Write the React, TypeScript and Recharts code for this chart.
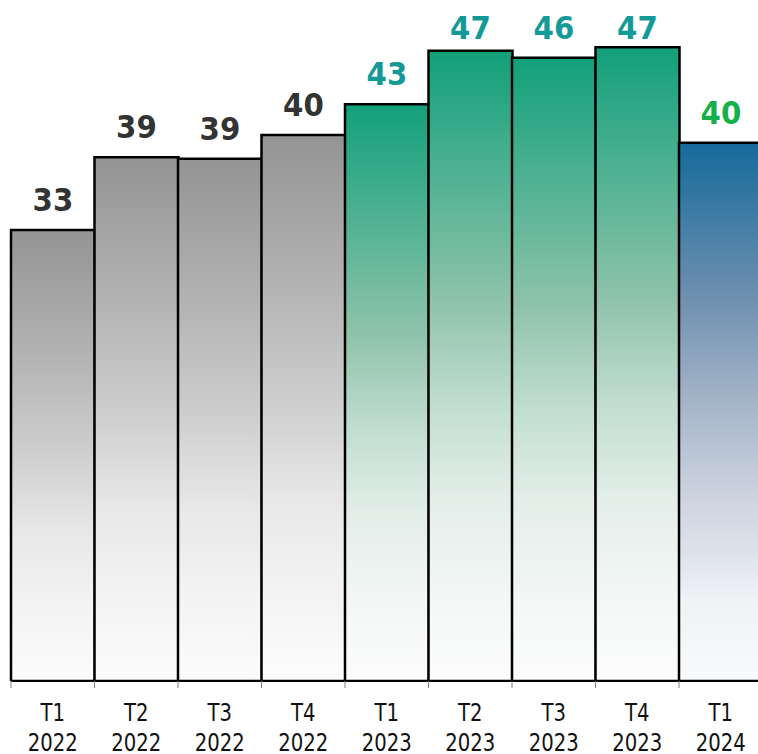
import React from 'react';
import { BarChart, Bar, XAxis, YAxis, Cell, LabelList } from 'recharts';

const quarters = ['T1', 'T2', 'T3', 'T4', 'T1', 'T2', 'T3', 'T4', 'T1'];
const years = ['2022', '2022', '2022', '2022', '2023', '2023', '2023', '2023', '2024'];
const values = [32.98, 38.61, 38.5, 40.33, 42.71, 46.85, 46.31, 47.11, 39.74];
const groups = ['past', 'past', 'past', 'past', 'prev', 'prev', 'prev', 'prev', 'current'];
const AXIS_MIN = -1.9;
const AXIS_MAX = 50;

const fills: Record<string, string> = {
  past: 'url(#gradGray)',
  prev: 'url(#gradGreen)',
  current: 'url(#gradBlue)',
};
const labelColors: Record<string, string> = {
  past: '#333333',
  prev: '#139a97',
  current: '#16b04b',
};

const data = quarters.map((q, i) => ({
  key: `${q} ${years[i]}`,
  quarter: q,
  year: years[i],
  value: values[i],
  group: groups[i],
  range: [AXIS_MIN, values[i]],
}));

const FONT = "'DejaVu Sans', Verdana, sans-serif";

const CatTick = (props: any) => {
  const { x, y, payload, width, visibleTicksCount, index } = props;
  const d = data[payload.index];
  if (!d) return null;
  const bw = width / visibleTicksCount;
  const edges = [x - bw / 2];
  if (index === visibleTicksCount - 1) edges.push(x + bw / 2);
  return (
    <g>
      {edges.map((ex, k) => (
        <line key={k} x1={ex} x2={ex} y1={y} y2={y + 7} stroke="#808080" strokeWidth={1} />
      ))}
      <g transform={`translate(${x},${y}) scale(0.82,1)`}>
        <text x={0} y={0} textAnchor="middle" fill="#111" fontSize={24} fontFamily={FONT}>
          <tspan x={0} dy={40.5}>{d.quarter}</tspan>
          <tspan x={0} dy={29.5}>{d.year}</tspan>
        </text>
      </g>
    </g>
  );
};

const ValueLabel = (props: any) => {
  const { x, y, width, index, value } = props;
  const d = data[index];
  if (!d) return null;
  const ly = Math.max(y - 18.8, 39.3);
  return (
    <g transform={`translate(${x + width / 2},${ly}) scale(0.93,1)`}>
      <text
        x={0}
        y={0}
        textAnchor="middle"
        fill={labelColors[d.group]}
        fontSize={31.5}
        fontWeight="bold"
        fontFamily={FONT}
      >
        {Math.round(value)}
      </text>
    </g>
  );
};

export default function App() {
  return (
    <div style={{ position: 'fixed', left: 0, top: 0, width: 758, height: 754, overflow: 'hidden', background: '#fff' }}>
      <BarChart
        width={770}
        height={754}
        data={data}
        margin={{ top: 10, right: 7.5, bottom: 0, left: 11 }}
        barCategoryGap={0}
        barGap={0}
      >
        <defs>
          <linearGradient id="gradGray" x1="0" y1="0" x2="0" y2="1">
            <stop offset="0" stopColor="#949494" />
            <stop offset="0.25" stopColor="#b0b0b0" />
            <stop offset="0.485" stopColor="#cdcdcd" />
            <stop offset="0.67" stopColor="#e8e8e8" />
            <stop offset="0.85" stopColor="#f4f4f4" />
            <stop offset="1" stopColor="#fcfcfc" />
          </linearGradient>
          <linearGradient id="gradGreen" x1="0" y1="0" x2="0" y2="1">
            <stop offset="0" stopColor="#12a07a" />
            <stop offset="0.4" stopColor="#8fc3ab" />
            <stop offset="0.56" stopColor="#c0ddd0" />
            <stop offset="0.71" stopColor="#e3eee9" />
            <stop offset="0.87" stopColor="#f3f7f5" />
            <stop offset="1" stopColor="#fcfdfc" />
          </linearGradient>
          <linearGradient id="gradBlue" x1="0" y1="0" x2="0" y2="1">
            <stop offset="0" stopColor="#156a9b" />
            <stop offset="0.29" stopColor="#6f90b0" />
            <stop offset="0.48" stopColor="#a4b4c8" />
            <stop offset="0.66" stopColor="#cdd4e0" />
            <stop offset="0.76" stopColor="#dde2ea" />
            <stop offset="0.85" stopColor="#f0f2f5" />
            <stop offset="1" stopColor="#f9fafc" />
          </linearGradient>
        </defs>
        <XAxis
          dataKey="key"
          type="category"
          height={73}
          tickLine={false}
          tickSize={0}
          tickMargin={0}
          axisLine={{ stroke: '#000', strokeWidth: 2 }}
          tick={<CatTick />}
          interval={0}
        />
        <YAxis hide type="number" domain={[AXIS_MIN, AXIS_MAX]} allowDataOverflow />
        <Bar dataKey="range" stroke="#000" strokeWidth={2.5} isAnimationActive={false}>
          {data.map((d, i) => (
            <Cell key={i} fill={fills[d.group]} />
          ))}
          <LabelList dataKey="value" content={<ValueLabel />} />
        </Bar>
      </BarChart>
    </div>
  );
}
